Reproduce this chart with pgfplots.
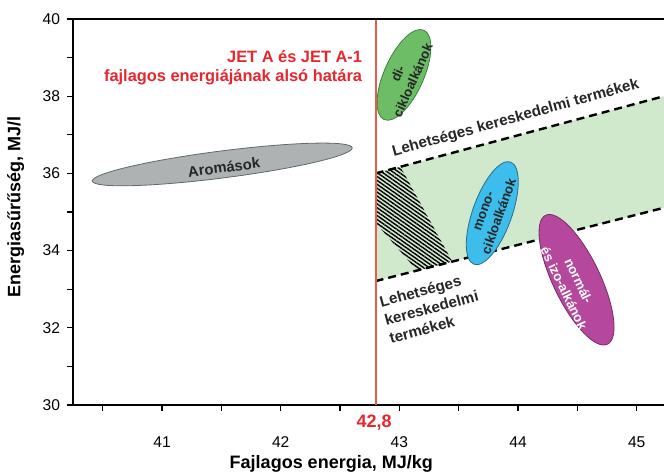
\documentclass[border=0pt]{standalone}
\usepackage{pgfplots}
\pgfplotsset{compat=1.18}
\usepackage{fontspec}
\setmainfont{Liberation Sans}
\usetikzlibrary{shapes.geometric,patterns.meta}

\definecolor{bandgreen}{HTML}{D0E8CC}
\definecolor{jetred}{HTML}{E8262E}
\definecolor{linered}{HTML}{EE5A45}
\definecolor{aromfill}{HTML}{AEB2B2}
\definecolor{aromdraw}{HTML}{5E6A70}
\definecolor{difill}{HTML}{6CBD65}
\definecolor{didraw}{HTML}{3F7F40}
\definecolor{monofill}{HTML}{3CBDEB}
\definecolor{monodraw}{HTML}{2C6E8C}
\definecolor{alkfill}{HTML}{B5489C}
\definecolor{alkdraw}{HTML}{7A2A6A}

\begin{document}
\begin{tikzpicture}
\begin{axis}[
    scale only axis,
    width=295.5pt, height=193pt,
    xmin=40.25, xmax=45.23,
    ymin=30, ymax=40,
    axis lines=left,
    axis line style={-, line width=0.8pt},
    tick align=outside,
    major tick length=3pt, minor tick length=3pt,
    tick style={black, line width=0.6pt},
    xtick={41,42,43,44,45},
    xticklabels={41,42,\raisebox{2.5pt}{43},44,45},
    minor xtick={40.5,41.5,42.5,43.5,44.5},
    ytick={30,32,34,36,38,40},
    minor ytick={31,33,35,37,39},
    tick label style={font=\fontsize{7.8}{9}\selectfont},
    xticklabel style={yshift=-9.5pt},
    /pgf/number format/assume math mode=true,
    xlabel={Fajlagos energia, MJ/kg},
    ylabel={Energiasűrűség, MJ/l},
    xlabel style={font=\bfseries\fontsize{9}{11}\selectfont, at={(axis description cs:0.437,-0.153)}, anchor=center},
    ylabel style={font=\bfseries\fontsize{9}{11}\selectfont, at={(axis description cs:-0.097,0.512)}, anchor=center},
    clip=false,
]
% lehetséges kereskedelmi termékek sávja
\addplot[fill=bandgreen, draw=none] coordinates {
    (42.8,33.21) (42.8,36.0) (45.23,38.0) (45.23,35.11)} -- cycle;
\addplot[draw=none, pattern={Lines[angle=-35,distance=1.6pt,line width=0.7pt]}] coordinates {
    (42.8,36.0) (43.01,36.17) (43.446,33.715) (43.15,33.48) (42.8,34.72)} -- cycle;
\addplot[black, line width=1.2pt, dash pattern=on 4pt off 2.5pt] coordinates {(42.8,36.0) (45.23,38.0)};
\addplot[black, line width=1.2pt, dash pattern=on 4pt off 2.5pt] coordinates {(42.8,33.21) (45.23,35.11)};

% csoportok
\node[ellipse, draw=aromdraw, fill=aromfill, line width=0.4pt, inner sep=0pt,
      minimum width=131pt, minimum height=13.5pt, rotate=7.3] at (axis cs:41.508,36.232) {};
\node[ellipse, draw=didraw, fill=difill, line width=0.4pt, inner sep=0pt,
      minimum width=48.9pt, minimum height=19.8pt, rotate=66] at (axis cs:43.039,38.552) {};
\node[ellipse, draw=monodraw, fill=monofill, line width=0.4pt, inner sep=0pt,
      minimum width=54.3pt, minimum height=19.6pt, rotate=70.3] at (axis cs:43.783,34.970) {};
\node[ellipse, draw=alkdraw, fill=alkfill, line width=0.4pt, inner sep=0pt,
      minimum width=71.5pt, minimum height=23.6pt, rotate=115.6] at (axis cs:44.493,33.245) {};

\node[rotate=7.3, text=black!85, font=\bfseries\fontsize{7.4}{8}\selectfont] at (axis cs:41.522,36.16) {Aromások};
\node[rotate=66, align=center, text=black!85, font=\bfseries\fontsize{6.6}{8.2}\selectfont] at (axis cs:43.05,38.5) {di-\\cikloalkánok};
\node[rotate=70.3, align=center, text=black!85, font=\bfseries\fontsize{6.6}{8.2}\selectfont] at (axis cs:43.78,34.95) {mono-\\cikloalkánok};
\node[rotate=-64.4, align=center, text=white, font=\bfseries\fontsize{6.6}{8.2}\selectfont] at (axis cs:44.45,33.12) {normál-\\és izo-alkánok};

\node[rotate=15.5, anchor=base, text=black!85, font=\bfseries\fontsize{7.6}{9}\selectfont] at (axis cs:43.99,37.33) {Lehetséges kereskedelmi termékek};
\node[rotate=15, align=left, text=black!85, font=\bfseries\fontsize{7.6}{9.4}\selectfont] at (axis cs:43.27,32.52) {Lehetséges\\kereskedelmi\\termékek};

% JET A alsó határ
\addplot[linered, line width=1pt] coordinates {(42.8,30) (42.8,40)};
\node[anchor=east, align=right, text=jetred, font=\bfseries\fontsize{8.2}{9.5}\selectfont] at (axis cs:42.745,38.75) {JET A és JET A-1\\fajlagos energiájának alsó határa};
\node[anchor=north, text=jetred, font=\bfseries\fontsize{9}{10}\selectfont, yshift=-1.5pt] at (axis cs:42.787,30) {42,8};

\draw[line width=0.8pt] (rel axis cs:0,1) -- (rel axis cs:1,1);
\end{axis}
\pgfresetboundingbox
\path ([shift={(-36.5pt,-35pt)}]current axis.south west) rectangle ([shift={(0pt,9.5pt)}]current axis.north east);
\end{tikzpicture}
\end{document}
